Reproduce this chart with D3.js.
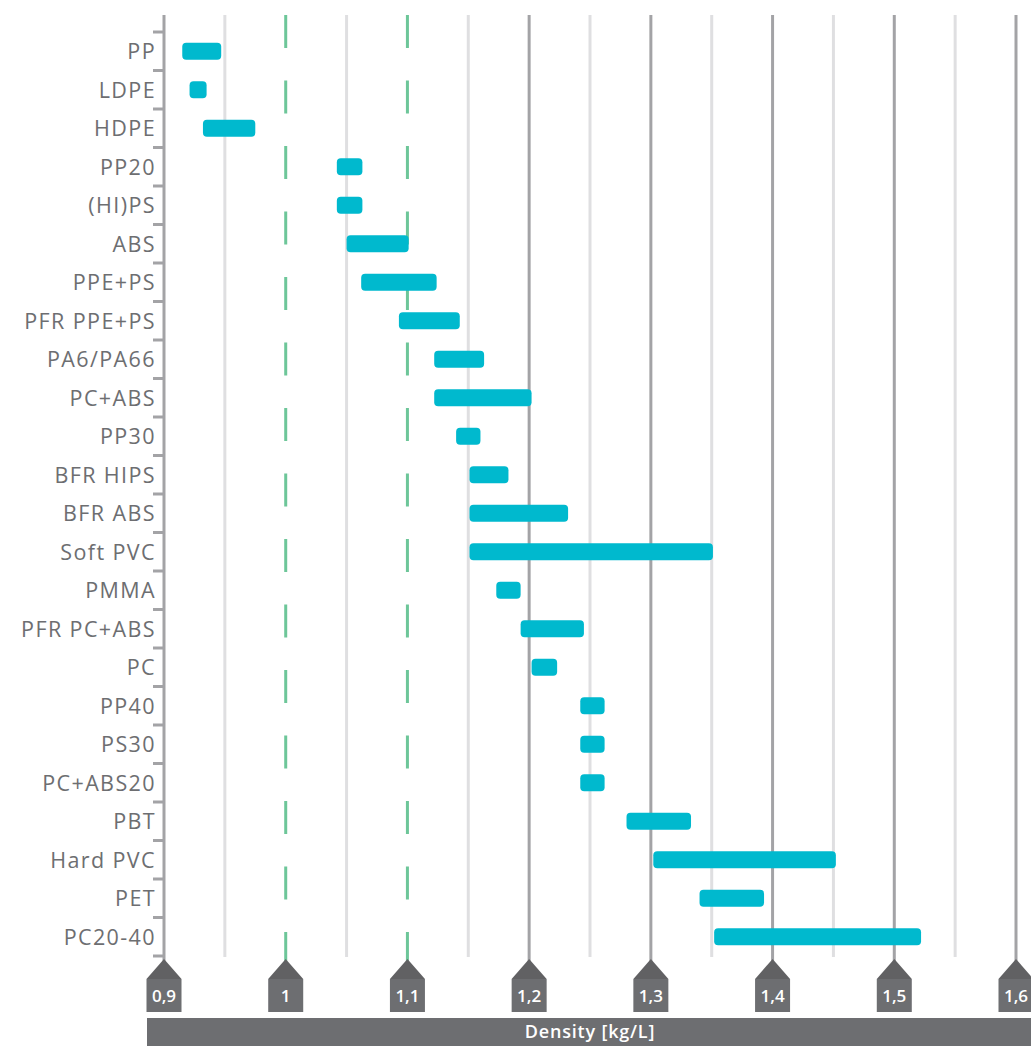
<!DOCTYPE html>
<html><head><meta charset="utf-8">
<script src="https://cdn.jsdelivr.net/npm/d3@7"></script>
<style>html,body{margin:0;padding:0;background:#fff;}svg{display:block;}</style>
</head><body>
<svg id="chart" width="1031" height="1046"></svg>
<script>
const categories = ["PP","LDPE","HDPE","PP20","(HI)PS","ABS","PPE+PS","PFR PPE+PS","PA6/PA66","PC+ABS","PP30","BFR HIPS","BFR ABS","Soft PVC","PMMA","PFR PC+ABS","PC","PP40","PS30","PC+ABS20","PBT","Hard PVC","PET","PC20-40"];
const densityMin = [0.915,0.921,0.932,1.042,1.042,1.050,1.062,1.093,1.122,1.122,1.140,1.151,1.151,1.151,1.173,1.193,1.202,1.242,1.242,1.242,1.280,1.302,1.340,1.352];
const densityMax = [0.947,0.935,0.975,1.063,1.063,1.101,1.124,1.143,1.163,1.202,1.160,1.183,1.232,1.351,1.193,1.245,1.223,1.262,1.262,1.262,1.333,1.452,1.393,1.522];
const majorTicks = [0.9,1.0,1.1,1.2,1.3,1.4,1.5,1.6];
const tickLabels = ["0,9","1","1,1","1,2","1,3","1,4","1,5","1,6"];
const minorTicks = [0.95,1.05,1.15,1.25,1.35,1.45,1.55];
const referenceLines = [1.0,1.1];
const axisTitle = "Density [kg/L]";

const svg = d3.select("#chart");
const x = d3.scaleLinear().domain([0.9,1.6]).range([164,1016]);
const y = d3.scaleBand().domain(categories).range([32,956]).paddingInner(0).paddingOuter(0);
const gridTop = 15, gridBottom = 957;
const font = "'Open Sans', 'Noto Sans', sans-serif";

// minor grid
svg.append("g").selectAll("line").data(minorTicks).join("line")
  .attr("x1",d=>x(d)).attr("x2",d=>x(d)).attr("y1",gridTop).attr("y2",gridBottom)
  .attr("stroke","#dfdfe1").attr("stroke-width",3);
// major grid (dark) for non-reference
svg.append("g").selectAll("line").data(majorTicks.filter(d=>d>1.15)).join("line")
  .attr("x1",d=>x(d)).attr("x2",d=>x(d)).attr("y1",gridTop).attr("y2",962)
  .attr("stroke","#a3a3a6").attr("stroke-width",3);
// reference dashed green
svg.append("g").selectAll("line").data(referenceLines).join("line")
  .attr("x1",d=>x(d)).attr("x2",d=>x(d)).attr("y1",gridTop).attr("y2",962)
  .attr("stroke","#6dc699").attr("stroke-width",3).attr("stroke-dasharray","33,32.5");

// y axis
const yAxis = d3.axisLeft(y).tickSize(0).tickPadding(8);
const yg = svg.append("g").attr("transform",`translate(${x(0.9)},0)`).call(yAxis);
yg.select(".domain").remove();
yg.selectAll("text").attr("font-family",font).attr("font-size",21.5).attr("fill","#6d6e71")
  .attr("letter-spacing","1.4px").attr("dy","0.36em").attr("x",-8);
svg.append("line").attr("x1",x(0.9)).attr("x2",x(0.9)).attr("y1",gridTop).attr("y2",962)
  .attr("stroke","#a3a3a6").attr("stroke-width",3);
const bounds = categories.map(c=>y(c)).concat([y(categories[categories.length-1])+y.bandwidth()]);
svg.append("g").selectAll("line").data(bounds).join("line")
  .attr("x1",x(0.9)-11).attr("x2",x(0.9)).attr("y1",d=>d).attr("y2",d=>d)
  .attr("stroke","#a3a3a6").attr("stroke-width",3);

// bars
const bh = 17;
svg.append("g").selectAll("rect").data(categories).join("rect")
  .attr("x",(d,i)=>x(densityMin[i]))
  .attr("width",(d,i)=>x(densityMax[i])-x(densityMin[i]))
  .attr("y",d=>y(d)+y.bandwidth()/2-bh/2)
  .attr("height",bh).attr("rx",4).attr("ry",4)
  .attr("fill","#00b9ce");

// x tick markers (pentagons)
const mk = svg.append("g").selectAll("g").data(majorTicks).join("g")
  .attr("transform",d=>`translate(${x(d)},0)`);
mk.append("path").attr("d","M-17.5,979 L0,959 L17.5,979 Z").attr("fill","#616163");
mk.append("rect").attr("x",-17.5).attr("y",979).attr("width",35).attr("height",33).attr("fill","#6d6e71");
mk.append("text").text((d,i)=>tickLabels[i]).attr("x",0).attr("y",996).attr("dy","0.36em")
  .attr("text-anchor","middle").attr("font-family",font).attr("font-weight",600)
  .attr("font-size",17).attr("fill","#fff");

// bottom title bar
svg.append("rect").attr("x",147).attr("y",1018).attr("width",1031-147).attr("height",28).attr("fill","#6d6e71");
svg.append("text").text(axisTitle).attr("x",590).attr("y",1032).attr("dy","0.36em")
  .attr("text-anchor","middle").attr("font-family",font).attr("font-weight",600)
  .attr("font-size",18).attr("letter-spacing","0.8px").attr("fill","#fff");
</script>
</body></html>
